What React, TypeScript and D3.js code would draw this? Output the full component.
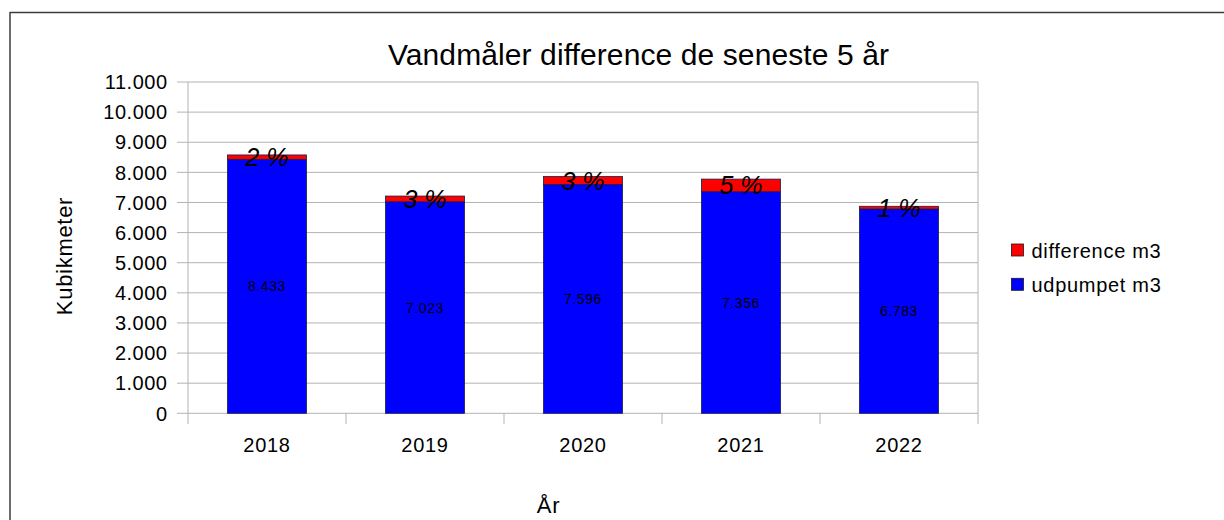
import React, { useEffect, useRef } from 'react';
import { select, scaleBand, scaleLinear, stack } from 'd3';

const years = ['2018', '2019', '2020', '2021', '2022'];
const udpumpet = [8433, 7023, 7596, 7356, 6783];
const difference = [145, 190, 265, 420, 90];
const percentLabels = ['2 %', '3 %', '3 %', '5 %', '1 %'];
const yTicks = [0, 1000, 2000, 3000, 4000, 5000, 6000, 7000, 8000, 9000, 10000, 11000];

const W = 1224;
const H = 520;
const FONT = "'Liberation Sans', Arial, sans-serif";

const dotted = (v: number) => {
  const s = String(v);
  return s.length > 3 ? s.slice(0, -3) + '.' + s.slice(-3) : s;
};

const App: React.FC = () => {
  const svgRef = useRef<SVGSVGElement>(null);

  useEffect(() => {
    if (!svgRef.current) return;
    const svg = select(svgRef.current);
    svg.selectAll('*').remove();

    const plot = { left: 188, right: 978, top: 82, bottom: 413.3 };

    svg.append('rect').attr('width', W).attr('height', H).attr('fill', '#fff');

    // outer frame (only top and left visible)
    svg.append('line').attr('x1', 10).attr('x2', W).attr('y1', 12.5).attr('y2', 12.5)
      .attr('stroke', '#3c3c3c').attr('stroke-width', 1.5);
    svg.append('line').attr('x1', 10).attr('x2', 10).attr('y1', 12).attr('y2', H)
      .attr('stroke', '#3c3c3c').attr('stroke-width', 1.5);

    const x = scaleBand<string>().domain(years).range([plot.left, plot.right]).paddingInner(0).paddingOuter(0);
    const y = scaleLinear().domain([0, 11000]).range([plot.bottom, plot.top]);

    const grid = svg.append('g');
    yTicks.forEach(t => {
      grid.append('line')
        .attr('x1', plot.left - 11).attr('x2', plot.right)
        .attr('y1', y(t)).attr('y2', y(t))
        .attr('stroke', '#b3b3b3').attr('stroke-width', 1);
      svg.append('text')
        .attr('x', 167.5).attr('y', y(t)).attr('dy', '0.36em')
        .attr('text-anchor', 'end')
        .attr('font-family', FONT).attr('font-size', 20).attr('letter-spacing', 0.5)
        .attr('fill', '#000').text(dotted(t));
    });
    // y axis
    grid.append('line').attr('x1', plot.left).attr('x2', plot.left)
      .attr('y1', plot.top).attr('y2', plot.bottom)
      .attr('stroke', '#b3b3b3');
    // x ticks at band edges, right border
    const edges = [...years.map(d => x(d) as number), plot.right];
    edges.forEach(e => {
      grid.append('line').attr('x1', e).attr('x2', e)
        .attr('y1', e === plot.right ? plot.top : plot.bottom).attr('y2', 424)
        .attr('stroke', '#b3b3b3');
    });

    const rows = years.map((yr, i) => ({ year: yr, udpumpet: udpumpet[i], difference: difference[i] }));
    const series = stack<any>().keys(['udpumpet', 'difference'])(rows);
    const colors: Record<string, string> = { udpumpet: '#0000ff', difference: '#ff0000' };

    const barW = x.bandwidth() / 2;
    series.forEach(s => {
      svg.append('g').selectAll('rect').data(s).enter().append('rect')
        .attr('x', d => (x(d.data.year) as number) + (x.bandwidth() - barW) / 2)
        .attr('y', d => y(d[1]))
        .attr('width', barW)
        .attr('height', d => y(d[0]) - y(d[1]))
        .attr('fill', colors[s.key])
        .attr('stroke', '#1a1a4a').attr('stroke-width', 0.8);
    });

    // value labels in blue segments
    series[0].forEach((d, i) => {
      svg.append('text')
        .attr('x', (x(years[i]) as number) + x.bandwidth() / 2)
        .attr('y', (y(d[0]) + y(d[1])) / 2).attr('dy', '0.36em')
        .attr('text-anchor', 'middle')
        .attr('font-family', FONT).attr('font-size', 14).attr('letter-spacing', 0.6)
        .attr('fill', '#000').text(dotted(udpumpet[i]));
    });
    // percent labels in red segments
    series[1].forEach((d, i) => {
      svg.append('text')
        .attr('x', (x(years[i]) as number) + x.bandwidth() / 2)
        .attr('y', (y(d[0]) + y(d[1])) / 2).attr('dy', '0.36em')
        .attr('text-anchor', 'middle')
        .attr('font-family', FONT).attr('font-size', 25).attr('font-style', 'italic')
        .attr('fill', '#000').text(percentLabels[i]);
    });

    // x tick labels
    years.forEach(yr => {
      svg.append('text')
        .attr('x', (x(yr) as number) + x.bandwidth() / 2).attr('y', 451.5)
        .attr('text-anchor', 'middle')
        .attr('font-family', FONT).attr('font-size', 20).attr('letter-spacing', 0.7)
        .attr('fill', '#000').text(yr);
    });

    // title
    svg.append('text')
      .attr('x', 638.5).attr('y', 65).attr('text-anchor', 'middle')
      .attr('font-family', FONT).attr('font-size', 30).attr('letter-spacing', 0.1)
      .attr('fill', '#000').text('Vandmåler difference de seneste 5 år');

    // axis titles
    svg.append('text')
      .attr('transform', 'translate(71.5,256) rotate(-90)')
      .attr('text-anchor', 'middle')
      .attr('font-family', FONT).attr('font-size', 22).attr('letter-spacing', 0.7)
      .attr('fill', '#000').text('Kubikmeter');
    svg.append('text')
      .attr('x', 548.5).attr('y', 513.3).attr('text-anchor', 'middle')
      .attr('font-family', FONT).attr('font-size', 22).attr('letter-spacing', 0.7)
      .attr('fill', '#000').text('År');

    // legend
    const legend = [
      { label: 'difference m3', color: '#ff0000', y: 244 },
      { label: 'udpumpet m3', color: '#0000ff', y: 278.3 },
    ];
    legend.forEach(l => {
      svg.append('rect').attr('x', 1011.5).attr('y', l.y).attr('width', 12).attr('height', 12)
        .attr('fill', l.color).attr('stroke', '#1a1a1a').attr('stroke-width', 0.8);
      svg.append('text')
        .attr('x', 1031.5).attr('y', l.y + 14)
        .attr('font-family', FONT).attr('font-size', 20).attr('letter-spacing', 0.7)
        .attr('fill', '#000').text(l.label);
    });
  }, []);

  return (
    <svg ref={svgRef} width={W} height={H} viewBox={`0 0 ${W} ${H}`}
      style={{ position: 'absolute', left: 0, top: 0, display: 'block' }} />
  );
};

export default App;
